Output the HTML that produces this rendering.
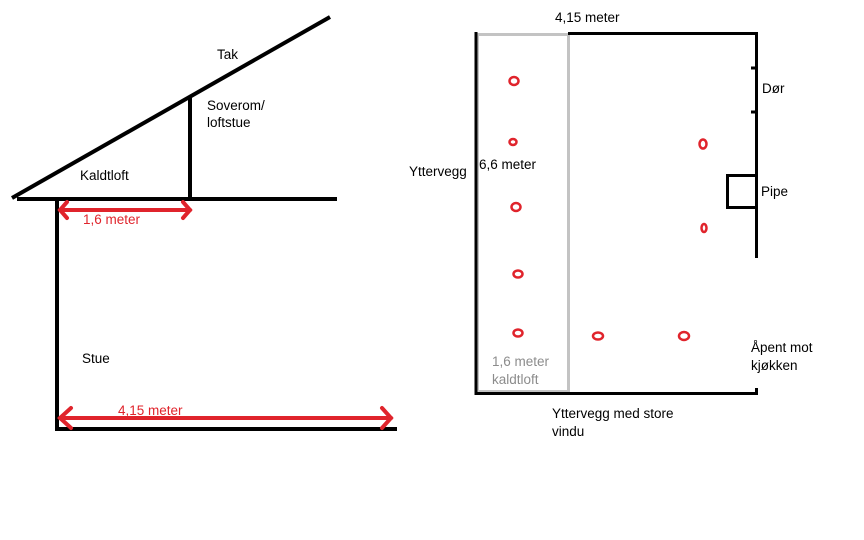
<!DOCTYPE html>
<html><head><meta charset="utf-8"><style>
html,body{margin:0;padding:0;background:#fff;width:864px;height:540px;overflow:hidden}
svg text{font-family:"Liberation Sans",sans-serif;font-size:13.5px}
</style></head><body>
<svg width="864" height="540" viewBox="0 0 864 540" xmlns="http://www.w3.org/2000/svg">
<g stroke="#000" stroke-width="4" fill="none">
<line x1="12" y1="198" x2="330" y2="17"/>
<line x1="17" y1="199" x2="337" y2="199"/>
<line x1="190" y1="97" x2="190" y2="199"/>
<line x1="57" y1="199" x2="57" y2="431"/>
<line x1="55" y1="429" x2="397" y2="429"/>
</g>
<g stroke="#e0242c" stroke-width="4" fill="none" stroke-linecap="round">
<line x1="60" y1="210" x2="190" y2="210"/>
<polyline points="67,202 60,210 67,218"/>
<polyline points="183,202 190,210 183,218"/>
<line x1="60" y1="418" x2="391" y2="418"/>
<polyline points="71,408 60,418 71,428"/>
<polyline points="382,408 391,418 382,428"/>
</g>
<text x="217" y="59" fill="#000">Tak</text>
<text x="207" y="110" fill="#000">Soverom/</text>
<text x="207" y="127" fill="#000">loftstue</text>
<text x="80" y="180" fill="#000">Kaldtloft</text>
<text x="83" y="224" fill="#e0242c">1,6 meter</text>
<text x="82" y="363" fill="#000">Stue</text>
<text x="118" y="415" fill="#e0242c">4,15 meter</text>

<rect x="477.5" y="34.5" width="91" height="357" fill="none" stroke="#c3c3c3" stroke-width="3"/>
<g stroke="#000" stroke-width="3" fill="none">
<line x1="476" y1="32" x2="476" y2="395"/>
<line x1="568" y1="33.5" x2="758" y2="33.5"/>
<line x1="756.5" y1="32" x2="756.5" y2="258"/>
<line x1="475" y1="393.5" x2="758" y2="393.5"/>
<line x1="756.5" y1="388" x2="756.5" y2="395"/>
<rect x="727.5" y="175.5" width="29" height="32"/>
<line x1="751" y1="68" x2="756" y2="68"/>
<line x1="751" y1="112" x2="756" y2="112"/>
</g>
<g stroke="#e0242c" stroke-width="2.5" fill="none">
<ellipse cx="514" cy="81" rx="4.5" ry="4"/>
<ellipse cx="513" cy="142" rx="3.5" ry="3"/>
<ellipse cx="516" cy="207" rx="4.5" ry="4"/>
<ellipse cx="518" cy="274" rx="4.5" ry="3.5"/>
<ellipse cx="518" cy="333" rx="4.5" ry="3.5"/>
<ellipse cx="703" cy="144" rx="3.5" ry="4.5"/>
<ellipse cx="704" cy="228" rx="2.5" ry="4"/>
<ellipse cx="598" cy="336" rx="5" ry="3.5"/>
<ellipse cx="684" cy="336" rx="5" ry="4"/>
</g>
<text x="555" y="22" fill="#000">4,15 meter</text>
<text x="762" y="93" fill="#000">Dør</text>
<text x="479" y="169" fill="#000">6,6 meter</text>
<text x="409" y="176" fill="#000">Yttervegg</text>
<text x="761" y="196" fill="#000">Pipe</text>
<text x="751" y="352" fill="#000">Åpent mot</text>
<text x="751" y="370" fill="#000">kjøkken</text>
<text x="492" y="366" fill="#8c8c8c">1,6 meter</text>
<text x="492" y="384" fill="#8c8c8c">kaldtloft</text>
<text x="552" y="418" fill="#000">Yttervegg med store</text>
<text x="552" y="436" fill="#000">vindu</text>
</svg>
</body></html>
